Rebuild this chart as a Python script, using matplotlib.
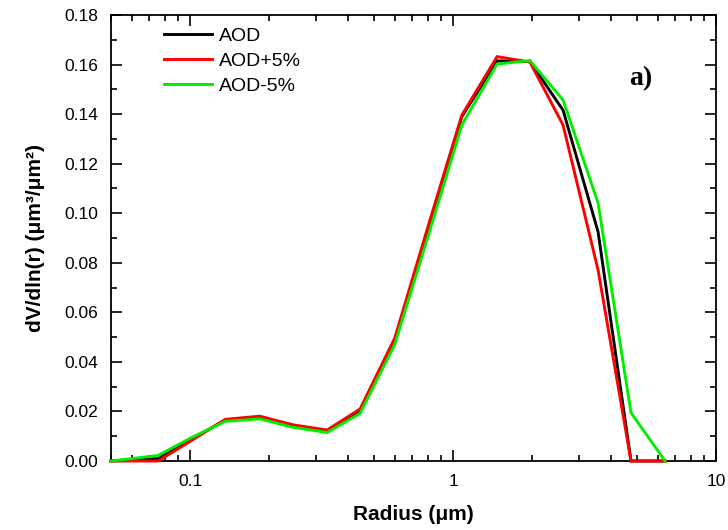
import matplotlib
matplotlib.use("Agg")
import matplotlib.pyplot as plt
from matplotlib.ticker import LogLocator, FixedLocator, MultipleLocator, FormatStrFormatter, NullFormatter

plt.rcParams['font.family'] = ['Liberation Sans', 'DejaVu Sans']

radius = [0.05, 0.0755, 0.101, 0.136, 0.184, 0.246, 0.332, 0.443, 0.6, 0.805,
          1.08, 1.47, 1.96, 2.62, 3.56, 4.75, 6.4]
aod = [0.0, 0.001, 0.0088, 0.0165, 0.0175, 0.0142, 0.0121, 0.0200, 0.0485, 0.094,
       0.139, 0.1615, 0.1612, 0.1416, 0.0925, 0.0, 0.0]
aod_plus = [0.0, 0.0, 0.0082, 0.0168, 0.0181, 0.0146, 0.0125, 0.0210, 0.0496, 0.095,
            0.1396, 0.1632, 0.1610, 0.1356, 0.0771, 0.0, 0.0]
aod_minus = [0.0, 0.0022, 0.0094, 0.0160, 0.0170, 0.0136, 0.0115, 0.0192, 0.0470, 0.091,
             0.1356, 0.1602, 0.1616, 0.1457, 0.1042, 0.0195, 0.0]

series = [("AOD", aod, "#000000"), ("AOD+5%", aod_plus, "#ff0000"), ("AOD-5%", aod_minus, "#00ee00")]

fig = plt.figure(figsize=(7.28, 5.30), dpi=100)
ax = fig.add_axes([111/728, 69/530, 605/728, 446/530])

for label, vals, col in series:
    ax.plot(radius, vals, color=col, lw=2.1, label=label, solid_joinstyle='miter',
            zorder=3, clip_on=False)

ax.set_xscale('log')
ax.set_xlim(0.05, 10)
ax.set_ylim(0, 0.18)
ax.xaxis.set_major_locator(FixedLocator([0.1, 1, 10]))
ax.xaxis.set_major_formatter(FormatStrFormatter('%g'))
ax.xaxis.set_minor_locator(LogLocator(base=10, subs=range(2, 10)))
ax.xaxis.set_minor_formatter(NullFormatter())
ax.yaxis.set_major_locator(MultipleLocator(0.02))
ax.yaxis.set_minor_locator(MultipleLocator(0.01))
ax.yaxis.set_major_formatter(FormatStrFormatter('%.2f'))

ax.tick_params(which='both', direction='in', top=True, right=True, labelsize=12.5, width=1.2)
ax.tick_params(which='major', length=8, pad=9)
ax.tick_params(which='minor', length=4)
for s in ax.spines.values():
    s.set_linewidth(1.3)

ax.set_xlabel('Radius (μm)', fontsize=15, fontweight='bold', labelpad=12)
ax.set_ylabel('dV/dln(r) (μm³/μm²)', fontsize=15, fontweight='bold', labelpad=14)

ax.legend(loc='upper left', bbox_to_anchor=(0.075, 0.99), frameon=False, fontsize=14,
          handlelength=2.45, handletextpad=0.35, labelspacing=0.38, borderaxespad=0)

ax.text(0.856, 0.843, 'a)', transform=ax.transAxes, fontsize=20, fontweight='bold',
        family='Liberation Serif')

fig.savefig('out.png', dpi=100)
